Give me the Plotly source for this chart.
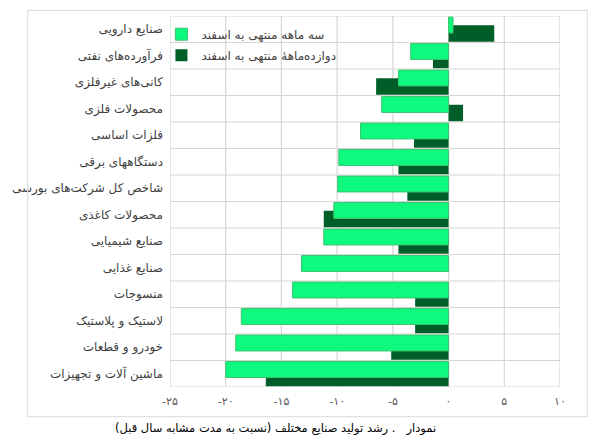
import plotly.graph_objects as go

categories = [
    "صنایع دارویی",
    "فرآورده‌های نفتی",
    "کانی‌های غیرفلزی",
    "محصولات فلزی",
    "فلزات اساسی",
    "دستگاههای برقی",
    "شاخص کل شرکت‌های بورسی",
    "محصولات کاغذی",
    "صنایع شیمیایی",
    "صنایع غذایی",
    "منسوجات",
    "لاستیک و پلاستیک",
    "خودرو و قطعات",
    "ماشین آلات و تجهیزات",
]
three_month = [0.4, -3.4, -4.5, -6.0, -7.9, -9.85, -9.95, -10.3, -11.2, -13.2, -14.0, -18.6, -19.1, -20.0]
twelve_month = [4.1, -1.4, -6.5, 1.3, -3.1, -4.5, -3.7, -11.2, -4.5, 0.0, -3.0, -3.0, -5.15, -16.4]
name_three = "سه ماهه منتهی به اسفند"
name_twelve = "دوازده‌ماههٔ منتهی به اسفند"
x_tickvals = [-25, -20, -15, -10, -5, 0, 5, 10]
x_ticktext = ["\u200e-۲۵", "\u200e-۲۰", "\u200e-۱۵", "\u200e-۱۰", "\u200e-۵", "۰", "۵", "۱۰"]
caption = "نمودار   . رشد تولید صنایع مختلف (نسبت به مدت مشابه سال قبل)"
boundaries = [i - 0.5 for i in range(len(categories) + 1)]

FONT = "DejaVu Sans"
GRID = "#d6d6d6"
pos = list(range(len(categories)))

fig = go.Figure()
fig.add_trace(go.Bar(
    y=pos, x=twelve_month, orientation="h", name=name_twelve,
    marker=dict(color="#005f29", line=dict(width=0)),
    offset=-0.15, width=0.62, legendrank=2, legendgroup="b",
))
fig.add_trace(go.Bar(
    y=pos, x=three_month, orientation="h", name=name_three,
    marker=dict(color="#0dfa7e", line=dict(color="#3cc46c", width=1)),
    offset=-0.46, width=0.6, legendrank=1, legendgroup="a",
))

shapes = [
    dict(type="line", xref="paper", yref="y", x0=0, x1=1, y0=b, y1=b,
         line=dict(color=GRID, width=1.2), layer="below")
    for b in boundaries
]
shapes += [
    dict(type="line", xref="x", yref="paper", x0=v, x1=v, y0=0, y1=1,
         line=dict(color=GRID, width=1.2), layer="below")
    for v in x_tickvals
]
shapes.append(
    dict(type="rect", xref="paper", yref="paper", x0=-0.365, x1=1.07, y0=-0.08, y1=1.015,
         line=dict(color="#e0e0e0", width=1.2), fillcolor="rgba(0,0,0,0)", layer="above")
)

fig.update_layout(
    width=606, height=443,
    margin=dict(l=161, r=46, t=16, b=56),
    paper_bgcolor="white", plot_bgcolor="rgba(0,0,0,0)",
    barmode="overlay",
    font=dict(family=FONT, size=11, color="#404040"),
    showlegend=True,
    legend=dict(
        x=-0.022, y=0.99, xanchor="left", yanchor="top",
        bgcolor="rgba(0,0,0,0)", font=dict(size=12, color="#404040", family=FONT),
        tracegroupgap=2, itemwidth=30,
    ),
    xaxis=dict(
        range=[-25, 10], tickvals=x_tickvals, ticktext=x_ticktext,
        showgrid=False, zeroline=False, showline=False, ticks="",
        ticklabelstandoff=6,
        tickfont=dict(size=11, color="#595959", family=FONT),
    ),
    yaxis=dict(
        range=[13.5, -0.5], tickvals=pos, ticktext=categories,
        showgrid=False, zeroline=False, showline=False, ticks="",
        ticklabelstandoff=6,
        tickfont=dict(size=12, color="#404040", family=FONT),
    ),
    shapes=shapes,
    annotations=[
        dict(text=caption, xref="paper", yref="paper", x=0.27, y=-0.113,
             xanchor="center", yanchor="middle", showarrow=False,
             font=dict(size=11.5, color="#000000", family=FONT)),
    ],
)

fig.write_html("out.html")
